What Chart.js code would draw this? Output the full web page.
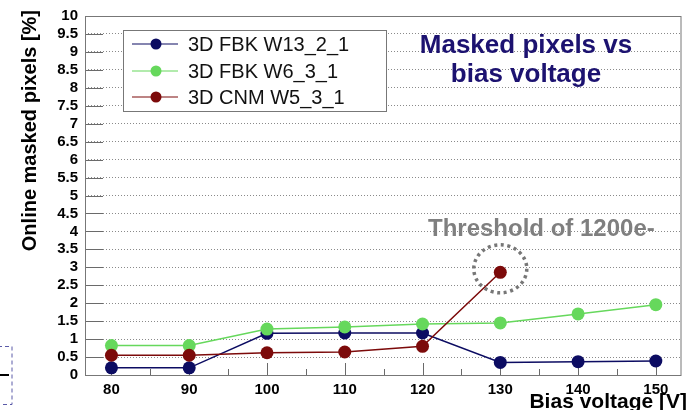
<!DOCTYPE html>
<html>
<head>
<meta charset="utf-8">
<script src="https://cdn.jsdelivr.net/npm/chart.js@4/dist/chart.umd.min.js"></script>
<style>
  html, body { margin: 0; padding: 0; background: #fff; }
  #wrap { width: 688px; height: 410px; }
</style>
</head>
<body>
<div id="wrap"><canvas id="maskedChart" width="688" height="410"></canvas></div>
<script>
// Bias voltage points [V]
const voltages = [80, 90, 100, 110, 120, 130, 140, 150];

// Online masked pixels [%] per sensor
const fbkW13 = [0.20, 0.20, 1.16, 1.17, 1.17, 0.35, 0.37, 0.39];
const fbkW6 = [0.82, 0.82, 1.28, 1.34, 1.42, 1.45, 1.70, 1.96];
const cnmW5 = [0.55, 0.55, 0.62, 0.64, 0.80, 2.86];

const seriesNames = ['3D FBK W13_2_1', '3D FBK W6_3_1', '3D CNM W5_3_1'];
const seriesColors = ['#0c0c62', '#66d85c', '#7c0a0a'];

const xTickValues = [80, 90, 100, 110, 120, 130, 140, 150];
const xMinorTicks = [85, 95, 105, 115, 125, 135, 145];

const FONT = '"Liberation Sans", Arial, sans-serif';

function toPoints(values) {
    return values.map((v, i) => ({ x: voltages[i], y: v }));
}

// Ticks on the inside of the frame, like ROOT draws them
const frameTicks = {
    id: 'frameTicks',
    beforeDatasetsDraw(chart) {
        const { ctx, chartArea: a, scales } = chart;
        ctx.save();
        ctx.strokeStyle = '#6a6a6a';
        ctx.lineWidth = 1;
        ctx.beginPath();
        scales.y.ticks.forEach(t => {
            const y = Math.round(scales.y.getPixelForValue(t.value)) + 0.5;
            ctx.moveTo(a.left, y);
            ctx.lineTo(a.left + 18, y);
        });
        xTickValues.forEach(v => {
            const x = Math.round(scales.x.getPixelForValue(v)) + 0.5;
            ctx.moveTo(x, a.bottom);
            ctx.lineTo(x, a.bottom - 12);
        });
        xMinorTicks.forEach(v => {
            const x = Math.round(scales.x.getPixelForValue(v)) + 0.5;
            ctx.moveTo(x, a.bottom);
            ctx.lineTo(x, a.bottom - 6);
        });
        ctx.stroke();
        // frame
        ctx.strokeStyle = '#777';
        ctx.strokeRect(a.left + 0.5, a.top + 0.5, a.right - a.left - 1, a.bottom - a.top);
        ctx.restore();
    }
};

// Legend, titles and the threshold annotation
const overlay = {
    id: 'overlay',
    afterDraw(chart) {
        const { ctx, scales } = chart;
        ctx.save();

        // legend box
        ctx.fillStyle = '#fff';
        ctx.fillRect(123, 30, 263, 81);
        ctx.strokeStyle = '#777';
        ctx.lineWidth = 1;
        ctx.strokeRect(123.5, 30.5, 263, 81);
        const rows = [44, 71, 97];
        ctx.font = '20px ' + FONT;
        ctx.textBaseline = 'middle';
        rows.forEach((y, i) => {
            ctx.strokeStyle = seriesColors[i];
            ctx.lineWidth = 1.2;
            ctx.beginPath();
            ctx.moveTo(132, y);
            ctx.lineTo(178, y);
            ctx.stroke();
            ctx.fillStyle = seriesColors[i];
            ctx.beginPath();
            ctx.arc(156, y, 5.5, 0, Math.PI * 2);
            ctx.fill();
            ctx.fillStyle = '#111';
            ctx.textAlign = 'left';
            ctx.fillText(seriesNames[i], 188, y + 1);
        });

        // chart title
        ctx.fillStyle = '#1c1270';
        ctx.font = 'bold 26px ' + FONT;
        ctx.textAlign = 'center';
        ctx.textBaseline = 'alphabetic';
        ctx.fillText('Masked pixels vs', 526, 53);
        ctx.fillText('bias voltage', 526, 82);

        // threshold annotation
        ctx.fillStyle = '#7f7f7f';
        ctx.font = 'bold 24px ' + FONT;
        ctx.textAlign = 'left';
        ctx.fillText('Threshold of 1200e-', 428, 236);

        const cx = scales.x.getPixelForValue(130);
        const cy = scales.y.getPixelForValue(cnmW5[5]) - 3.5;
        ctx.strokeStyle = '#777';
        ctx.lineWidth = 3.5;
        ctx.setLineDash([3, 3.6]);
        ctx.beginPath();
        ctx.ellipse(cx, cy, 26.5, 24, 0, 0, Math.PI * 2);
        ctx.stroke();
        ctx.setLineDash([]);

        // axis titles
        ctx.fillStyle = '#000';
        ctx.font = 'bold 21px ' + FONT;
        ctx.textAlign = 'right';
        ctx.fillText('Bias voltage [V]', 687, 408);

        ctx.save();
        ctx.translate(36, 10);
        ctx.rotate(-Math.PI / 2);
        ctx.font = 'bold 20px ' + FONT;
        ctx.textAlign = 'right';
        ctx.fillText('Online masked pixels [%]', 0, 0);
        ctx.restore();

        // leftover dashed box at the bottom-left edge
        ctx.strokeStyle = '#5a5aa8';
        ctx.lineWidth = 1;
        ctx.setLineDash([4, 3]);
        ctx.strokeRect(-2, 346.5, 14, 58);
        ctx.setLineDash([]);
        ctx.strokeStyle = '#000';
        ctx.lineWidth = 2;
        ctx.beginPath();
        ctx.moveTo(0, 375);
        ctx.lineTo(9, 375);
        ctx.stroke();

        ctx.restore();
    }
};

function makeDataset(i, values, order) {
    return {
        label: seriesNames[i],
        data: toPoints(values),
        borderColor: seriesColors[i],
        backgroundColor: seriesColors[i],
        borderWidth: 1.5,
        pointRadius: 6.5,
        pointBorderWidth: 0,
        pointBackgroundColor: seriesColors[i],
        tension: 0,
        order: order
    };
}

new Chart(document.getElementById('maskedChart'), {
    type: 'line',
    data: {
        datasets: [
            makeDataset(0, fbkW13, 3),
            makeDataset(1, fbkW6, 2),
            makeDataset(2, cnmW5, 1)
        ]
    },
    options: {
        responsive: false,
        animation: false,
        layout: { padding: { top: 11, right: 3, left: 0, bottom: 0 } },
        plugins: {
            legend: { display: false },
            tooltip: { enabled: false },
            title: { display: false }
        },
        scales: {
            x: {
                type: 'linear',
                min: 76.6,
                max: 153.3,
                afterFit(scale) { scale.height = 35; },
                afterBuildTicks(scale) {
                    scale.ticks = xTickValues.map(v => ({ value: v }));
                },
                grid: { display: false, drawTicks: false },
                border: { display: false },
                ticks: {
                    padding: 6,
                    color: '#000',
                    autoSkip: false,
                    font: { family: FONT, size: 15, weight: 'bold' },
                    maxRotation: 0,
                    callback: v => String(v)
                }
            },
            y: {
                min: 0,
                max: 10,
                afterFit(scale) { scale.width = 85; },
                grid: {
                    color: '#8a8a8a',
                    lineWidth: 1,
                    drawTicks: false
                },
                border: { display: false, dash: [1, 2] },
                ticks: {
                    stepSize: 0.5,
                    autoSkip: false,
                    padding: 7,
                    color: '#000',
                    font: { family: FONT, size: 15, weight: 'bold' },
                    callback: v => String(v)
                }
            }
        }
    },
    plugins: [frameTicks, overlay]
});
</script>
</body>
</html>
